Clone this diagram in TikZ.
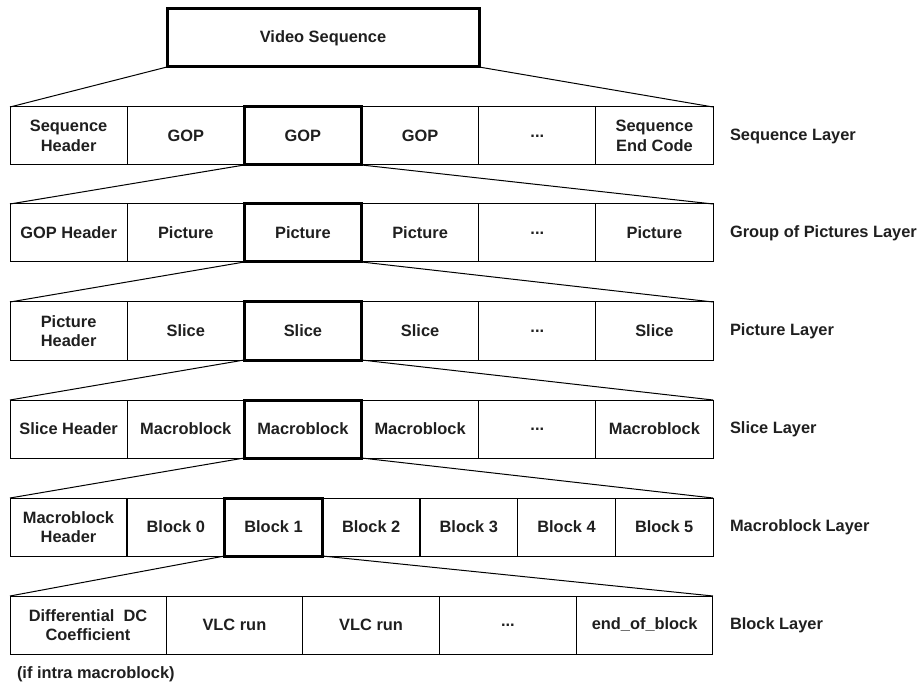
\documentclass[tikz,border=0pt]{standalone}
\usepackage{fontspec}
\setmainfont{Liberation Sans}
\begin{document}
\begin{tikzpicture}[x=1pt,y=-1pt,
  every node/.style={font=\bfseries\fontsize{16.4}{19.5}\selectfont, text=black!88, outer sep=0pt, inner sep=0pt},
  cell/.style={draw, line width=1pt, minimum height=58pt, align=center},
  hcell/.style={draw, line width=3pt, minimum height=58pt, align=center},
  wA/.style={minimum width=117.2pt},
  wB/.style={minimum width=97.7pt},
  wC/.style={minimum width=136.75pt},
  layer/.style={anchor=west},
  link/.style={line width=1pt}]
\useasboundingbox (0,0) rectangle (920,684);
% top
\node[hcell, minimum width=312pt] (vs) at (323,38) {Video Sequence};
% Sequence layer
\node[cell,wA] (s1) at (68.6,136) {Sequence\\Header};
\node[cell,wA] (s2) at (185.8,136) {GOP};
\node[cell,wA] (s4) at (420.1,136) {GOP};
\node[cell,wA] (s5) at (537.3,136) {...};
\node[cell,wA] (s6) at (654.4,136) {Sequence\\End Code};
\node[hcell,wA] (s3) at (302.9,136) {GOP};
\node[layer] (l1) at (730,136) {Sequence Layer};
% GOP layer
\node[cell,wA] (g1) at (68.6,233) {GOP Header};
\node[cell,wA] (g2) at (185.8,233) {Picture};
\node[cell,wA] (g4) at (420.1,233) {Picture};
\node[cell,wA] (g5) at (537.3,233) {...};
\node[cell,wA] (g6) at (654.4,233) {Picture};
\node[hcell,wA] (g3) at (302.9,233) {Picture};
\node[layer] (l2) at (730,233) {Group of Pictures Layer};
% Picture layer
\node[cell,wA] (p1) at (68.6,331) {Picture\\Header};
\node[cell,wA] (p2) at (185.8,331) {Slice};
\node[cell,wA] (p4) at (420.1,331) {Slice};
\node[cell,wA] (p5) at (537.3,331) {...};
\node[cell,wA] (p6) at (654.4,331) {Slice};
\node[hcell,wA] (p3) at (302.9,331) {Slice};
\node[layer] (l3) at (730,331) {Picture Layer};
% Slice layer
\node[cell,wA] (c1) at (68.6,429) {Slice Header};
\node[cell,wA] (c2) at (185.8,429) {Macroblock};
\node[cell,wA] (c4) at (420.1,429) {Macroblock};
\node[cell,wA] (c5) at (537.3,429) {...};
\node[cell,wA] (c6) at (654.4,429) {Macroblock};
\node[hcell,wA] (c3) at (302.9,429) {Macroblock};
\node[layer] (l4) at (730,429) {Slice Layer};
% Macroblock layer
\node[cell,minimum width=117pt] (m1) at (68.5,527) {Macroblock\\Header};
\node[cell,wB] (m2) at (175.8,527) {Block 0};
\node[cell,wB] (m4) at (371.2,527) {Block 2};
\node[cell,wB] (m5) at (468.8,527) {Block 3};
\node[cell,wB] (m6) at (566.5,527) {Block 4};
\node[cell,wB] (m7) at (664.2,527) {Block 5};
\node[hcell,wB] (m3) at (273.5,527) {Block 1};
\node[layer] (l5) at (730,527) {Macroblock Layer};
% Block layer
\node[cell,minimum width=156pt] (b1) at (88,625) {Differential\ \ DC\\Coefficient};
\node[cell,wC] (b2) at (234.4,625) {VLC run};
\node[cell,wC] (b3) at (371.1,625) {VLC run};
\node[cell,wC] (b4) at (507.9,625) {...};
\node[cell,wC] (b5) at (644.6,625) {end\_of\_block};
\node[layer] (l6) at (730,625) {Block Layer};
\node[anchor=west] (note) at (17,674) {(if intra macroblock)};
% connectors
\draw[link] (vs.south west) -- (s1.north west);
\draw[link] (vs.south east) -- (s6.north east);
\draw[link] (s3.south west) -- (g1.north west);
\draw[link] (s3.south east) -- (g6.north east);
\draw[link] (g3.south west) -- (p1.north west);
\draw[link] (g3.south east) -- (p6.north east);
\draw[link] (p3.south west) -- (c1.north west);
\draw[link] (p3.south east) -- (c6.north east);
\draw[link] (c3.south west) -- (m1.north west);
\draw[link] (c3.south east) -- (m7.north east);
\draw[link] (m3.south west) -- (b1.north west);
\draw[link] (m3.south east) -- (b5.north east);
\end{tikzpicture}
\end{document}
